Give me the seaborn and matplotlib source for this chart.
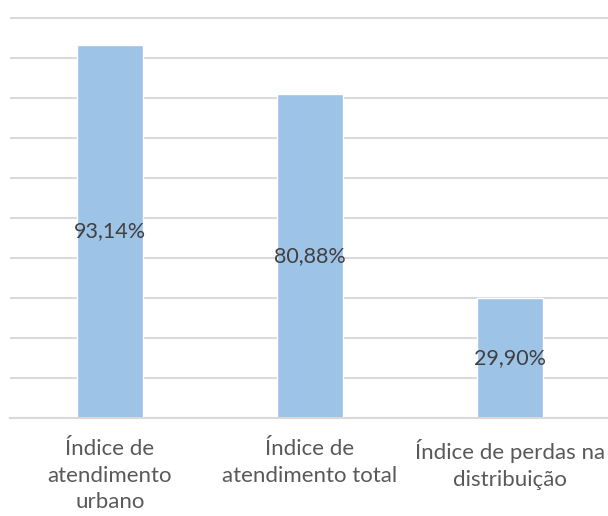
import matplotlib
matplotlib.use("Agg")
import matplotlib.pyplot as plt
import seaborn as sns
import pandas as pd

categories = ["Índice de\natendimento\nurbano", "Índice de\natendimento total", "Índice de perdas na\ndistribuição"]
values = [93.14, 80.88, 29.90]
value_labels = ["93,14%", "80,88%", "29,90%"]

df = pd.DataFrame({"cat": categories, "val": values})

sns.set_theme(style="white")
plt.rcParams['font.family'] = ['Lato', 'DejaVu Sans']

fig = plt.figure(figsize=(6.08, 5.16), dpi=100)
ax = fig.add_axes([10/608, 98/516, 600/608, 401.7/516])

sns.barplot(data=df, x="cat", y="val", color="#9dc3e6", width=0.33, ax=ax, saturation=1)

ax.set_ylim(0, 100.3)
ax.set_xlim(-0.5, 2.5)
ax.set_yticks(range(0, 101, 10))
ax.yaxis.grid(True, color="#d9d9d9", linewidth=1.5)
ax.set_axisbelow(True)
ax.tick_params(axis='y', left=False, labelleft=False)
ax.tick_params(axis='x', bottom=False, pad=9, labelsize=16, labelcolor="#595959")
for lbl in ax.get_xticklabels():
    lbl.set_linespacing(1.42)
for s in ["top", "right", "left"]:
    ax.spines[s].set_visible(False)
ax.spines["bottom"].set_color("#d9d9d9")
ax.spines["bottom"].set_linewidth(1.5)
ax.set_xlabel("")
ax.set_ylabel("")

for i, (v, t) in enumerate(zip(values, value_labels)):
    ax.text(i, v / 2, t, ha="center", va="center", fontsize=15.5, color="#404040")

fig.savefig("out.png", dpi=100)
